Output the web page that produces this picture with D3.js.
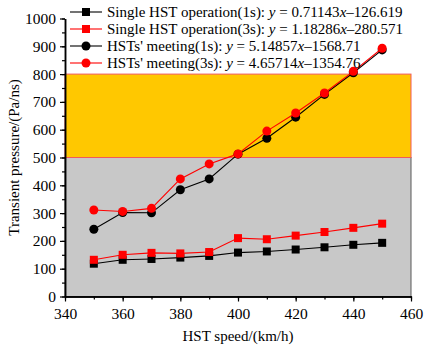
<!DOCTYPE html>
<html lang="en">
<head>
    <meta charset="UTF-8">
    <title>Transient pressure</title>
    <script src="https://cdn.jsdelivr.net/npm/d3@7/dist/d3.min.js"></script>
    <style>
        body{margin:0;background:#fff;}
        text{font-family:"Liberation Serif","Times New Roman",serif;}
    </style>
</head>
<body>
<script>
    // data
    var speeds=[350,360,370,380,390,400,410,420,430,440,450];
    var single1s=[118,132,135,140,146,158,162,169,177,186,193];
    var single3s=[132,150,157,155,160,210,206,219,232,247,262];
    var meet1s=[242,302,301,384,423,512,569,645,727,805,887];
    var meet3s=[311,306,317,423,477,513,595,660,732,810,893];
    var xTicks=[340,360,380,400,420,440,460];
    var yTicks=[0,100,200,300,400,500,600,700,800,900,1000];
    var bands=[{lo:0,hi:500,fill:"#c8c8c8",stroke:"#5a5a5a"},{lo:500,hi:800,fill:"#ffc800",stroke:"#f05a5a"}];
    var legendNames=["Single HST operation(1s): ","Single HST operation(3s): ","HSTs' meeting(1s): ","HSTs' meeting(3s): "];
    var legendFits=[["0.71143","126.619"],["1.18286","280.571"],["5.14857","1568.71"],["4.65714","1354.76"]];

    var width=424,height=349;
    var padding={top:18.5,right:13,bottom:52.5,left:65};
    var svg=d3.select("body").append("svg").attr("width",width).attr("height",height);

    var xScale=d3.scaleLinear().domain([340,460]).range([padding.left,width-padding.right]);
    var yScale=d3.scaleLinear().domain([0,1000]).range([height-padding.bottom,padding.top]);

    // coloured ranges
    svg.selectAll("rect.band").data(bands).enter().append("rect")
        .attr("class","band")
        .attr("x",xScale(340))
        .attr("y",function(d){return yScale(d.hi);})
        .attr("width",xScale(460)-xScale(340))
        .attr("height",function(d){return yScale(d.lo)-yScale(d.hi);})
        .attr("fill",function(d){return d.fill;})
        .attr("stroke",function(d){return d.stroke;})
        .attr("stroke-width",1);

    // axes, minor ticks first
    var xMinor=d3.range(340,461,10), yMinor=d3.range(0,1001,50);
    svg.append("g").attr("transform","translate(0,"+yScale(0)+")")
        .call(d3.axisBottom(xScale).tickValues(xMinor).tickFormat("").tickSize(3).tickSizeOuter(0));
    svg.append("g").attr("transform","translate("+xScale(340)+",0)")
        .call(d3.axisLeft(yScale).tickValues(yMinor).tickFormat("").tickSize(3).tickSizeOuter(0));
    var gx=svg.append("g").attr("class","axis").attr("transform","translate(0,"+yScale(0)+")")
        .call(d3.axisBottom(xScale).tickValues(xTicks).tickFormat(d3.format("d")).tickSize(5).tickSizeOuter(0).tickPadding(6));
    var gy=svg.append("g").attr("class","axis").attr("transform","translate("+xScale(340)+",0)")
        .call(d3.axisLeft(yScale).tickValues(yTicks).tickFormat(d3.format("d")).tickSize(5).tickSizeOuter(0).tickPadding(4));
    svg.selectAll(".domain").attr("stroke","#000").attr("stroke-width",1.5);
    svg.selectAll(".tick line").attr("stroke","#000").attr("stroke-width",1.2);
    svg.selectAll(".axis text").attr("font-size",15.5).attr("fill","#000")
        .style("font-family","'Liberation Serif',serif");

    // axis titles
    svg.append("text").attr("x",(xScale(340)+xScale(460))/2).attr("y",341)
        .attr("text-anchor","middle").attr("font-size",15).text("HST speed/(km/h)");
    svg.append("text").attr("transform","translate(19,"+yScale(500)+") rotate(-90)")
        .attr("text-anchor","middle").attr("font-size",15).text("Transient pressure/(Pa/ns)");

    var series=[
        {vals:single1s,color:"#000",shape:"square"},
        {vals:single3s,color:"#ff0000",shape:"square"},
        {vals:meet1s,color:"#000",shape:"circle"},
        {vals:meet3s,color:"#ff0000",shape:"circle"}
    ];
    var line=d3.line().x(function(d){return xScale(d[0]);}).y(function(d){return yScale(d[1]);});

    function marker(g,s,x,y){
        if(s.shape=="square"){
            g.append("rect").attr("x",x-4).attr("y",y-4).attr("width",8).attr("height",8).attr("fill",s.color);
        }else{
            g.append("circle").attr("cx",x).attr("cy",y).attr("r",4.5).attr("fill",s.color);
        }
    }

    series.forEach(function(s){
        var pts=speeds.map(function(v,i){return [v,s.vals[i]];});
        svg.append("path").attr("d",line(pts)).attr("fill","none").attr("stroke",s.color).attr("stroke-width",1.1);
        var g=svg.append("g");
        pts.forEach(function(p){marker(g,s,xScale(p[0]),yScale(p[1]));});
    });

    // legend
    var legendY=[12,29,46,63];
    series.forEach(function(s,i){
        var g=svg.append("g");
        g.append("line").attr("x1",70).attr("x2",102).attr("y1",legendY[i]).attr("y2",legendY[i])
            .attr("stroke",s.color).attr("stroke-width",1.1);
        marker(g,s,86,legendY[i]);
        var t=g.append("text").attr("x",107).attr("y",legendY[i]+5).attr("font-size",15).attr("fill","#000");
        t.append("tspan").text(legendNames[i]);
        t.append("tspan").attr("font-style","italic").text("y");
        t.append("tspan").text(" = "+legendFits[i][0]);
        t.append("tspan").attr("font-style","italic").text("x");
        t.append("tspan").text("\u2013"+legendFits[i][1]);
    });
</script>
</body>
</html>
